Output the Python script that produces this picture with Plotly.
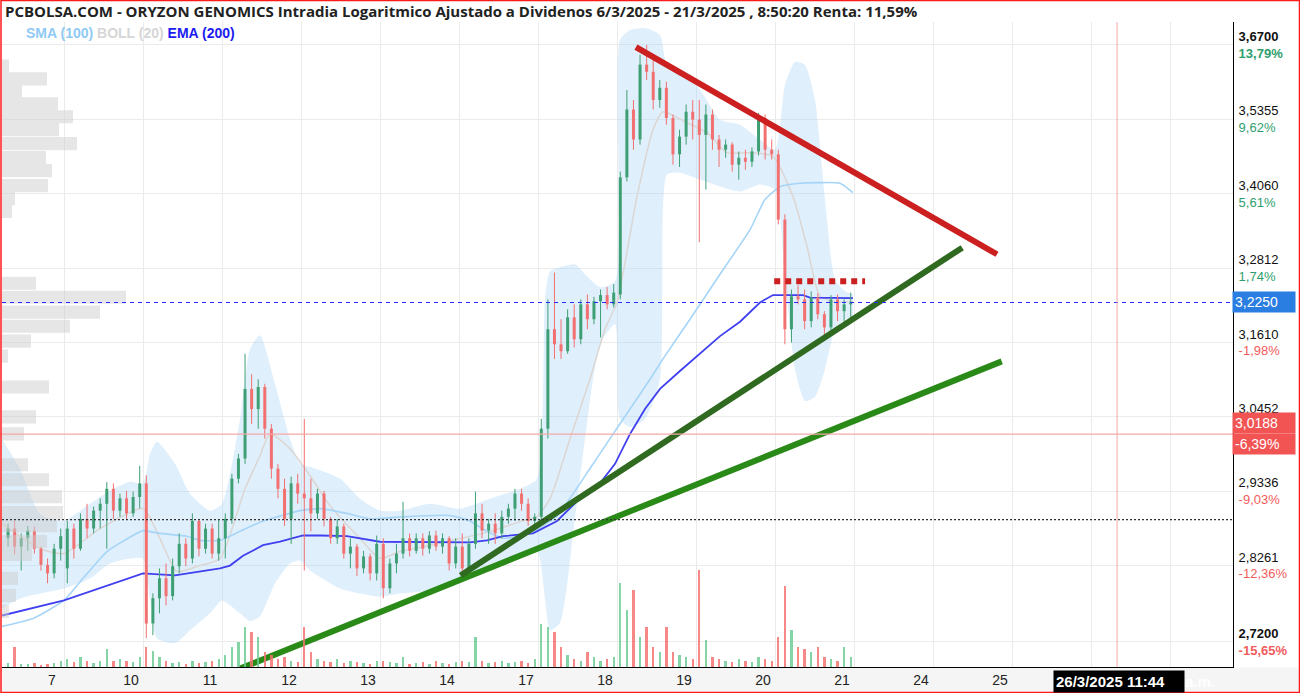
import math
import plotly.graph_objects as go

# ---------------- data ----------------
title_text = ("PCBOLSA.COM - ORYZON GENOMICS Intradia Logaritmico Ajustado a Dividenos "
              "6/3/2025 - 21/3/2025 , 8:50:20 Renta: 11,59%")
day_labels = ["7", "10", "11", "12", "13", "14", "17", "18", "19", "20", "21", "24", "25"]
day_slots = 12
bars_per_day = [9, 12, 12, 12, 12, 12, 12, 12, 12, 12, 12]   # day 6 (partial) .. day 20
day_offsets = [-1, 0, 1, 2, 3, 4, 5, 6, 7, 8, 9]

opens = [
    2.865, 2.879, 2.853, 2.865, 2.876, 2.850, 2.827, 2.815, 2.850,
    2.822, 2.879, 2.850, 2.893, 2.879, 2.905, 2.915, 2.937, 2.905, 2.923, 2.901, 2.925,
    2.945, 2.745, 2.780, 2.808, 2.783, 2.825, 2.857, 2.836, 2.890, 2.850, 2.879, 2.843,
    2.865, 2.893, 2.952, 2.982, 3.088, 3.057, 3.091, 3.027, 2.967, 2.937, 2.893, 2.945,
    2.930, 2.923, 2.901, 2.930, 2.893, 2.865, 2.882, 2.843, 2.853, 2.822, 2.839, 2.815,
    2.857, 2.794, 2.829, 2.843, 2.865, 2.847, 2.865, 2.850, 2.869, 2.853, 2.865, 2.829,
    2.853, 2.822, 2.857, 2.901, 2.876, 2.886, 2.872, 2.896, 2.908, 2.930, 2.915, 2.890,
    2.896, 3.027, 3.182, 3.158, 3.147, 3.201, 3.166, 3.222, 3.198, 3.227, 3.237, 3.222,
    3.238, 3.434, 3.553, 3.500, 3.634, 3.621, 3.570, 3.592, 3.538, 3.474, 3.505, 3.549,
    3.535, 3.508, 3.544, 3.500, 3.482, 3.491, 3.456, 3.468, 3.461, 3.479, 3.538, 3.482,
    3.474, 3.362, 3.182, 3.235, 3.230, 3.195, 3.233, 3.206, 3.185, 3.230, 3.211, 3.222,
]
highs = [
    2.886, 2.890, 2.872, 2.883, 2.882, 2.853, 2.836, 2.857, 2.879,
    2.890, 2.886, 2.901, 2.915, 2.911, 2.923, 2.947, 2.945, 2.930, 2.934, 2.933, 2.971,
    2.957, 2.787, 2.822, 2.829, 2.836, 2.872, 2.865, 2.901, 2.893, 2.886, 2.886, 2.893,
    2.901, 2.959, 2.989, 3.143, 3.111, 3.103, 3.096, 3.034, 2.974, 2.952, 2.955, 2.959,
    3.042, 2.952, 2.937, 2.934, 2.896, 2.893, 2.886, 2.865, 2.857, 2.847, 2.843, 2.869,
    2.865, 2.836, 2.857, 2.918, 2.872, 2.872, 2.872, 2.875, 2.876, 2.872, 2.868, 2.865,
    2.872, 2.865, 2.933, 2.915, 2.893, 2.901, 2.905, 2.915, 2.937, 2.937, 2.923, 2.901,
    3.042, 3.230, 3.274, 3.198, 3.214, 3.222, 3.230, 3.238, 3.234, 3.246, 3.250, 3.255,
    3.444, 3.588, 3.570, 3.652, 3.670, 3.643, 3.606, 3.603, 3.544, 3.517, 3.562, 3.570,
    3.570, 3.562, 3.553, 3.508, 3.500, 3.495, 3.479, 3.482, 3.486, 3.547, 3.544, 3.500,
    3.482, 3.371, 3.246, 3.253, 3.246, 3.243, 3.240, 3.211, 3.237, 3.238, 3.230, 3.241,
]
lows = [
    2.853, 2.842, 2.819, 2.847, 2.843, 2.819, 2.801, 2.808, 2.833,
    2.801, 2.836, 2.847, 2.865, 2.872, 2.879, 2.850, 2.893, 2.896, 2.893, 2.896, 2.908,
    2.725, 2.729, 2.759, 2.770, 2.777, 2.815, 2.825, 2.829, 2.839, 2.843, 2.836, 2.833,
    2.836, 2.886, 2.945, 2.974, 3.034, 3.027, 3.012, 2.952, 2.923, 2.883, 2.857, 2.915,
    2.819, 2.875, 2.893, 2.882, 2.857, 2.857, 2.836, 2.822, 2.811, 2.815, 2.805, 2.805,
    2.780, 2.787, 2.815, 2.836, 2.839, 2.843, 2.840, 2.843, 2.847, 2.843, 2.819, 2.822,
    2.808, 2.815, 2.850, 2.865, 2.857, 2.857, 2.865, 2.886, 2.890, 2.905, 2.883, 2.879,
    2.886, 3.012, 3.135, 3.135, 3.143, 3.153, 3.158, 3.182, 3.190, 3.169, 3.214, 3.217,
    3.230, 3.427, 3.482, 3.491, 3.606, 3.553, 3.556, 3.526, 3.456, 3.452, 3.491, 3.500,
    3.324, 3.413, 3.482, 3.452, 3.468, 3.444, 3.430, 3.447, 3.452, 3.472, 3.465, 3.465,
    3.354, 3.158, 3.161, 3.222, 3.182, 3.185, 3.198, 3.169, 3.179, 3.195, 3.190, 3.195,
]
closes = [
    2.879, 2.853, 2.865, 2.876, 2.850, 2.827, 2.815, 2.850, 2.868,
    2.879, 2.850, 2.893, 2.879, 2.905, 2.915, 2.937, 2.905, 2.923, 2.901, 2.925, 2.945,
    2.745, 2.780, 2.808, 2.783, 2.825, 2.857, 2.836, 2.890, 2.850, 2.879, 2.843, 2.865,
    2.893, 2.952, 2.982, 3.088, 3.057, 3.091, 3.027, 2.967, 2.937, 2.893, 2.945, 2.930,
    2.923, 2.901, 2.930, 2.893, 2.865, 2.882, 2.843, 2.853, 2.822, 2.839, 2.815, 2.857,
    2.794, 2.829, 2.843, 2.865, 2.847, 2.865, 2.850, 2.869, 2.853, 2.865, 2.829, 2.853,
    2.822, 2.857, 2.901, 2.876, 2.886, 2.872, 2.896, 2.908, 2.930, 2.915, 2.890, 2.896,
    3.027, 3.182, 3.158, 3.147, 3.201, 3.166, 3.222, 3.198, 3.227, 3.237, 3.222, 3.241,
    3.434, 3.553, 3.500, 3.634, 3.621, 3.570, 3.592, 3.538, 3.474, 3.505, 3.549, 3.535,
    3.508, 3.544, 3.500, 3.482, 3.491, 3.456, 3.468, 3.461, 3.479, 3.538, 3.482, 3.474,
    3.362, 3.182, 3.235, 3.230, 3.195, 3.233, 3.206, 3.185, 3.230, 3.211, 3.222, 3.225,
]
volumes = [  # thousands of shares
    4, 20, 3, 3, 4, 2, 3, 4, 6,
    8, 5, 10, 6, 4, 6, 18, 6, 8, 6, 5, 10,
    20, 16, 10, 6, 4, 5, 3, 6, 4, 5, 6, 8,
    12, 20, 25, 40, 35, 30, 15, 12, 8, 10, 6, 5,
    40, 15, 8, 6, 5, 8, 4, 6, 5, 4, 3, 6,
    6, 5, 4, 10, 3, 4, 5, 3, 6, 4, 3, 5,
    6, 5, 30, 6, 4, 5, 6, 4, 5, 6, 4, 8,
    43, 40, 35, 20, 12, 8, 6, 15, 10, 6, 8, 10,
    84, 57, 77, 30, 40, 20, 15, 40, 15, 12, 10, 8,
    97, 27, 10, 8, 6, 5, 8, 6, 5, 10, 8, 6,
    30, 81, 37, 20, 18, 15, 20, 10, 8, 6, 20, 10,
]

# indicators (x in trading-day units, 0 = start of day 7)
ema_x = [-0.785, 0, 1.0, 1.405, 1.975, 2.101, 2.266, 2.519, 2.734, 3.025, 3.241, 3.582, 4.0, 4.291,
         4.924, 5.139, 5.354, 5.557, 5.937, 6.114, 6.241, 6.532, 6.785, 6.975, 7.165, 7.354, 7.544,
         7.797, 8.051, 8.304, 8.557, 8.810, 8.975, 9.354, 9.443, 9.823, 9.987]
ema_y = [2.756, 2.777, 2.815, 2.812, 2.822, 2.826, 2.840, 2.855, 2.860, 2.869, 2.869, 2.868, 2.860,
         2.860, 2.860, 2.859, 2.862, 2.868, 2.872, 2.883, 2.890, 2.923, 2.945, 2.974, 3.019, 3.057,
         3.088, 3.116, 3.143, 3.171, 3.194, 3.225, 3.237, 3.237, 3.233, 3.233, 3.232]
sma_x = [-0.785, -0.392, 0, 0.241, 0.544, 0.873, 1.0, 1.215, 1.557, 1.722, 1.975, 2.228, 2.519, 2.734,
         2.987, 3.241, 3.582, 3.873, 4.291, 4.886, 5.139, 5.354, 5.557, 5.772, 5.937, 6.241, 6.405,
         6.658, 6.911, 7.165, 7.418, 7.582, 7.924, 8.304, 8.684, 8.873, 9.063, 9.316, 9.570, 9.823, 9.987]
sma_y = [2.741, 2.752, 2.777, 2.808, 2.846, 2.869, 2.876, 2.872, 2.868, 2.862, 2.862, 2.875, 2.890,
         2.897, 2.905, 2.908, 2.901, 2.893, 2.896, 2.898, 2.890, 2.875, 2.865, 2.868, 2.875, 2.897,
         2.923, 2.967, 3.012, 3.057, 3.103, 3.135, 3.198, 3.271, 3.345, 3.396, 3.418, 3.424, 3.425,
         3.424, 3.408]
bb_x = [-0.785, -0.557, -0.304, 0, 0.329, 0.582, 0.835, 1.0, 1.089, 1.177, 1.405, 1.595, 1.848, 2.0,
        2.228, 2.354, 2.481, 2.671, 2.861, 2.987, 3.114, 3.494, 3.747, 4.0, 4.253, 4.633, 5.013, 5.392,
        5.772, 5.987, 6.089, 6.152, 6.278, 6.468, 6.595, 6.785, 6.975, 7.038, 7.165, 7.354, 7.544,
        7.633, 7.797, 8.051, 8.304, 8.557, 8.810, 9.0, 9.127, 9.253, 9.380, 9.506, 9.633, 9.759,
        9.886, 9.987]
bb_upper = [3.0116, 2.9667, 2.9006, 2.8905, 2.9152, 2.9343, 2.9475, 2.9445, 2.9891, 3.0071, 2.9742,
            2.9298, 2.9050, 2.9152, 3.0419, 3.1504, 3.1725, 3.0957, 3.0116, 2.9742, 2.9697, 2.9519,
            2.9225, 2.9050, 2.9050, 2.9152, 2.9079, 2.9225, 2.9372, 2.9519, 3.2302, 3.2758, 3.2824,
            3.2873, 3.2709, 3.2497, 3.2595, 3.6792, 3.6976, 3.7013, 3.6884, 3.6335, 3.6244, 3.5884,
            3.5348, 3.5260, 3.4996, 3.4822, 3.5973, 3.6390, 3.6335, 3.5704, 3.3960, 3.2627, 3.2432,
            3.2383]
bb_lower = [2.7660, 2.7798, 2.7868, 2.7938, 2.8078, 2.8290, 2.8360, 2.8360, 2.7798, 2.7247, 2.7179,
            2.7357, 2.7590, 2.7770, 2.7590, 2.7480, 2.7549, 2.8008, 2.8290, 2.8332, 2.8191, 2.7938,
            2.7868, 2.7826, 2.7868, 2.7910, 2.8078, 2.8275, 2.8418, 2.8475, 2.7798, 2.7357, 2.7453,
            2.8934, 3.0116, 3.1583, 3.1900, 3.0419, 3.0297, 3.0419, 3.1034, 3.4388, 3.4422, 3.4302,
            3.4182, 3.4096, 3.4216, 3.4130, 3.2627, 3.1190, 3.0694, 3.0756, 3.1190, 3.1820, 3.1980,
            3.2012]
mid_x = [-0.785, -0.304, 0, 0.456, 1.0, 1.215, 1.430, 1.722, 1.975, 2.291, 2.481, 2.608, 2.861, 3.114,
         3.367, 3.747, 4.0, 4.253, 4.633, 5.013, 5.392, 5.772, 5.987, 6.152, 6.405, 6.658, 6.848, 7.0,
         7.253, 7.456, 7.582, 7.886, 8.139, 8.392, 8.722, 8.975, 9.228, 9.405, 9.570, 9.785, 9.987]
mid_y = [2.8861, 2.8503, 2.8432, 2.8789, 2.9079, 2.8646, 2.8177, 2.8261, 2.8360, 2.9372, 2.9861,
         3.0192, 2.9966, 2.9563, 2.9123, 2.8646, 2.8360, 2.8460, 2.8546, 2.8646, 2.8746, 2.8890,
         2.8963, 2.9225, 3.0116, 3.1034, 3.1820, 3.2254, 3.4011, 3.5172, 3.5490, 3.5295, 3.5119,
         3.4770, 3.4770, 3.4700, 3.4011, 3.3171, 3.2351, 3.2254, 3.2270]

# volume-at-price profile (left side)
profile_price = [3.6313, 3.6081, 3.5866, 3.5633, 3.5401, 3.5172, 3.4926, 3.4682, 3.4457, 3.4199,
                 3.3977, 3.3757, 3.2562, 3.2334, 3.2093, 3.1868, 3.1630, 3.1393, 3.0910, 3.0450,
                 3.0192, 2.9727, 2.9504, 2.9254, 2.9021, 2.8832, 2.8603, 2.8417, 2.8078, 2.7840, 2.7618]
profile_volume = [7, 45, 20, 56, 71, 57, 75, 44, 50, 46, 13, 10, 34, 124, 98, 68, 29, 6, 47, 34, 22,
                  26, 47, 60, 61, 55, 45, 30, 16, 14, 7]

# trend lines drawn by the analyst
red_trend_x, red_trend_y = [7.24, 11.81], [3.666, 3.304]
dark_trend_x, dark_trend_y = [5.02, 11.37], [2.812, 3.315]
green_trend_x, green_trend_y = [2.228, 11.87], [2.6835, 3.131]
resist_x, resist_y = [8.99, 10.14], [3.2594, 3.2594]

last_price = 3.2250
ref_level = 3.0188
prev_level = 2.8919
now_x = 13.33

price_ticks = [3.67, 3.5355, 3.4060, 3.2812, 3.1610, 3.0452, 2.9336, 2.8261, 2.72]
price_labels = ["3,6700", "3,5355", "3,4060", "3,2812", "3,1610", "3,0452", "2,9336", "2,8261", "2,7200"]
pct_labels = ["13,79%", "9,62%", "5,61%", "1,74%", "-1,98%", "", "-9,03%", "-12,36%", "-15,65%"]

# ---------------- figure ----------------
UP, DOWN = "#3f9f74", "#f27070"
VUP, VDOWN = "rgba(110,205,150,0.85)", "rgba(245,115,115,0.85)"

xs = []
for off, n in zip(day_offsets, bars_per_day):
    for j in range(n):
        xs.append(off + (day_slots - n + j + 0.5) / day_slots)

up_idx = [i for i in range(len(xs)) if closes[i] >= opens[i]]
dn_idx = [i for i in range(len(xs)) if closes[i] < opens[i]]


def segments(idx, a, b):
    X, Y = [], []
    for i in idx:
        X += [xs[i], xs[i], None]
        Y += [a[i], b[i], None]
    return X, Y


fig = go.Figure()

# volume profile
PX, PY = [], []
half = 0.0033
for c, w in zip(profile_price, profile_volume):
    lo, hi = c * math.exp(-half), c * math.exp(half)
    PX += [0, w, w, 0, None]
    PY += [lo, lo, hi, hi, None]
fig.add_trace(go.Scatter(x=PX, y=PY, xaxis="x2", yaxis="y", mode="lines", fill="toself",
                         fillcolor="rgba(205,205,205,0.5)", line=dict(width=0), hoverinfo="skip"))

# Bollinger
fig.add_trace(go.Scatter(x=bb_x, y=bb_upper, mode="lines", line=dict(width=0, shape="spline", smoothing=0.6),
                         hoverinfo="skip"))
fig.add_trace(go.Scatter(x=bb_x, y=bb_lower, mode="lines", fill="tonexty",
                         fillcolor="rgba(170,214,247,0.38)",
                         line=dict(width=0, shape="spline", smoothing=0.6), hoverinfo="skip"))
fig.add_trace(go.Scatter(x=mid_x, y=mid_y, mode="lines",
                         line=dict(color="#dcd6d2", width=1.5, shape="spline", smoothing=0.6)))
# SMA
fig.add_trace(go.Scatter(x=sma_x, y=sma_y, mode="lines",
                         line=dict(color="#a6d5f7", width=1.6, shape="spline", smoothing=0.5)))
# EMA
fig.add_trace(go.Scatter(x=ema_x, y=ema_y, mode="lines", line=dict(color="#4040f0", width=1.8)))

# candles
for idx, col in ((up_idx, UP), (dn_idx, DOWN)):
    wx, wy = segments(idx, lows, highs)
    fig.add_trace(go.Scatter(x=wx, y=wy, mode="lines", line=dict(color=col, width=1), hoverinfo="skip"))
    bx, by = segments(idx, opens, closes)
    fig.add_trace(go.Scatter(x=bx, y=by, mode="lines", line=dict(color=col, width=3), hoverinfo="skip"))

# trend lines
fig.add_trace(go.Scatter(x=green_trend_x, y=green_trend_y, mode="lines", line=dict(color="#2a8a18", width=6)))
fig.add_trace(go.Scatter(x=dark_trend_x, y=dark_trend_y, mode="lines", line=dict(color="#2f6a20", width=6)))
fig.add_trace(go.Scatter(x=red_trend_x, y=red_trend_y, mode="lines", line=dict(color="#cc1f1f", width=6)))
fig.add_trace(go.Scatter(x=resist_x, y=resist_y, mode="lines",
                         line=dict(color="#cc1f1f", width=6, dash="6px,5px")))

# volume bars
fig.add_trace(go.Bar(x=xs, y=volumes, xaxis="x", yaxis="y2", width=0.03,
                     marker=dict(color=[VUP if closes[i] >= opens[i] else VDOWN for i in range(len(xs))],
                                 line=dict(width=0))))

W0, W1, T, B = 2, 1233, 22, 667


def px_x(px):
    return (px - W0) / (W1 - W0)


def px_y(py):
    return (B - py) / (B - T)


tick_text = []
for k, (p, pc) in enumerate(zip(price_labels, pct_labels)):
    col = "#2f9e6e" if not pc.startswith("-") else "#f25c5c"
    if k in (0, len(price_labels) - 1):
        tick_text.append(f"<b>{p}</b><br><b><span style='color:{col}'>{pc}</span></b>")
    elif pc:
        tick_text.append(f"{p}<br><span style='color:{col}'>{pc}</span>")
    else:
        tick_text.append(f"{p}<br> ")

fig.update_layout(
    width=1300, height=693,
    margin=dict(l=W0, r=1300 - W1, t=T, b=693 - B),
    paper_bgcolor="white", plot_bgcolor="white", showlegend=False,
    font=dict(family="Liberation Sans, Arial, sans-serif", color="#111"),
    bargap=0,
    xaxis=dict(range=[(W0 - 64) / 79, (W1 - 64) / 79], tickvals=list(range(15)),
               ticktext=day_labels + ["", ""], ticklabelshift=-12,
               showgrid=True, gridcolor="#ebebeb", gridwidth=1, zeroline=False,
               showline=True, linecolor="black", linewidth=1, ticks="",
               tickfont=dict(size=14, color="#222")),
    xaxis2=dict(overlaying="x", range=[0, W1 - W0], visible=False),
    yaxis=dict(type="log", range=[math.log10(2.6857), math.log10(3.7126)], side="right",
               tickvals=price_ticks, ticktext=tick_text, showgrid=True, gridcolor="#ebebeb",
               zeroline=False, showline=True, linecolor="black", linewidth=1, ticks="",
               tickfont=dict(size=13, color="#111"), ticklabelstandoff=2),
    yaxis2=dict(overlaying="y", range=[0, B - T], visible=False),
)

shapes = [
    dict(type="rect", xref="paper", yref="paper", x0=px_x(0), x1=px_x(1300), y0=px_y(693), y1=px_y(667.5),
         fillcolor="#f5f5f5", line=dict(width=0), layer="below"),
    dict(type="line", xref="paper", yref="y", x0=0, x1=1, y0=last_price, y1=last_price,
         line=dict(color="#2a2aff", width=1.2, dash="4px,4px")),
    dict(type="line", xref="paper", yref="y", x0=0, x1=1, y0=ref_level, y1=ref_level,
         line=dict(color="#f6a8a8", width=1.2)),
    dict(type="line", xref="paper", yref="y", x0=0, x1=1, y0=prev_level, y1=prev_level,
         line=dict(color="#333333", width=1.3, dash="2px,2px")),
    dict(type="line", xref="x", yref="paper", x0=now_x, x1=now_x, y0=0, y1=1,
         line=dict(color="#f6a8a8", width=1)),
    dict(type="rect", xref="paper", yref="paper", x0=px_x(1), x1=px_x(1299.5), y0=px_y(692.5), y1=px_y(0.5),
         line=dict(color="#ff1a1a", width=1.5), fillcolor="rgba(0,0,0,0)"),
]
fig.update_layout(shapes=shapes)

ann = [
    dict(x=px_x(3), y=px_y(11), xref="paper", yref="paper", xanchor="left", yanchor="middle",
         text=f"<b>{title_text}</b>", showarrow=False,
         font=dict(family="Open Sans, Liberation Sans, sans-serif", size=15, color="#222")),
    dict(x=px_x(24), y=px_y(33), xref="paper", yref="paper", xanchor="left", yanchor="middle",
         text="<b><span style='color:#8fcaf5'>SMA (100)</span> <span style='color:#d6d6d6'>BOLL (20)</span> "
              "<span style='color:#1c1cf0'>EMA (200)</span></b>",
         showarrow=False, font=dict(size=14)),
    dict(x=px_x(1232), y=math.log10(last_price), xref="paper", yref="y", xanchor="left", yanchor="middle",
         text=f"{last_price:.4f}".replace(".", ","), showarrow=False, bgcolor="#2a7de1", width=58, align="left",
         borderpad=2, font=dict(size=14, color="white")),
    dict(x=px_x(1232), y=math.log10(ref_level), xref="paper", yref="y", xanchor="left", yanchor="middle",
         yshift=11, text=f"{ref_level:.4f}".replace(".", ","), showarrow=False, bgcolor="#f25454", width=58,
         align="left", borderpad=2, font=dict(size=14, color="white")),
    dict(x=px_x(1232), y=math.log10(ref_level), xref="paper", yref="y", xanchor="left", yanchor="middle",
         yshift=-10, text=f"{(ref_level / last_price - 1) * 100:.2f}%".replace(".", ","), showarrow=False,
         bgcolor="#f25454", width=58, align="left", borderpad=2, font=dict(size=14, color="white")),
    dict(x=px_x(1053), y=px_y(681), xref="paper", yref="paper", xanchor="left", yanchor="middle",
         text="<b>26/3/2025 11:44</b>", showarrow=False, bgcolor="black", borderpad=2, width=126,
         align="left", font=dict(size=15, color="white")),
    dict(x=px_x(1183), y=px_y(681), xref="paper", yref="paper", xanchor="left", yanchor="middle",
         text="<b>a.m.</b>", showarrow=False, font=dict(size=15, color="white")),
]
fig.update_layout(annotations=ann)

fig.write_html("out.html")
